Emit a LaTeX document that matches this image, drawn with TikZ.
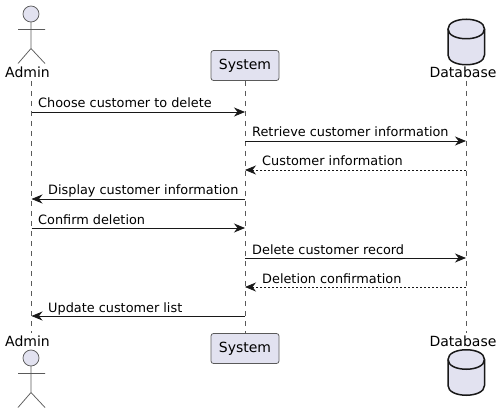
\documentclass[tikz,border=0pt]{standalone}
\usepackage{fontspec}
\setmainfont{DejaVu Sans}
\usetikzlibrary{arrows.meta}
\definecolor{pfill}{HTML}{E2E2F0}
\definecolor{pline}{HTML}{181818}
\definecolor{thinline}{HTML}{5A5A5A}
\tikzset{
  x=1pt,y=-1pt,
  lifeline/.style={draw=thinline,line width=0.5pt,dash pattern=on 5pt off 5pt},
  msg/.style={draw=pline,line width=0.75pt,-{Stealth[length=11pt,width=9pt,inset=3.5pt,fill=pline]}},
  ret/.style={msg,dash pattern=on 2pt off 2pt},
  msgl/.style={anchor=base west,inner sep=0pt,font=\fontsize{12.85}{15}\selectfont,text=black},
  plabel/.style={inner sep=0pt,font=\fontsize{14}{16}\selectfont,text=black},
  pbox/.style={draw=thinline,fill=pfill,line width=0.75pt,rounded corners=2.5pt,minimum width=68pt,minimum height=30pt,inner sep=0pt,font=\fontsize{14}{16}\selectfont,text=black},
  actorline/.style={draw=thinline,line width=0.75pt,fill=pfill},
  dbline/.style={draw=pline,line width=1.5pt,fill=pfill},
}
\newcommand{\actorfig}[1]{%
  \draw[actorline] (31,#1) circle[radius=8];
  \draw[actorline,fill=none] (31,#1+8) -- (31,#1+34.5)
    (18,#1+15.5) -- (45,#1+15.5)
    (18,#1+49.5) -- (31,#1+34.5) -- (45,#1+49.5);
}
\newcommand{\dbfig}[1]{%
  \draw[dbline] (448,#1+10) .. controls (448,#1-3) and (484.5,#1-3) .. (484.5,#1+10)
    -- (484.5,#1+36) .. controls (484.5,#1+49) and (448,#1+49) .. (448,#1+36) -- cycle;
  \draw[dbline,fill=none] (448,#1+10) .. controls (448,#1+23) and (484.5,#1+23) .. (484.5,#1+10);
}
\begin{document}
\begin{tikzpicture}
\useasboundingbox (0,0) rectangle (503,414);
% lifeline ends
\coordinate (at) at (31,81); \coordinate (ab) at (31,333);
\coordinate (st) at (245,81); \coordinate (sb) at (245,333);
\coordinate (dt) at (466,81); \coordinate (db) at (466,333);
\draw[lifeline] (at) -- (ab);
\draw[lifeline] (st) -- (sb);
\draw[lifeline] (dt) -- (db);
% participants
\actorfig{14}
\actorfig{358}
\node[plabel] (adminT) at (27.5,72.5) {Admin};
\node[plabel] (adminB) at (27.5,341) {Admin};
\node[pbox] (sysT) at (245,65.5) {System};
\node[pbox] (sysB) at (245,348.5) {System};
\dbfig{19}
\dbfig{349.5}
\node[plabel] (dbT) at (463,72.5) {Database};
\node[plabel] (dbB) at (463,341) {Database};
% rows
\foreach \n/\y in {1/112,2/141,3/170,4/199,5/228,6/258,7/287,8/316}{
  \coordinate (a\n) at (31.5,\y);
  \coordinate (s\n) at (245,\y);
  \coordinate (d\n) at (466,\y);
}
\draw[msg] (a1) -- (s1);
\node[msgl] (m1) at (38,108) {Choose customer to delete};
\draw[msg] (s2) -- (d2);
\node[msgl] (m2) at (252,137) {Retrieve customer information};
\draw[ret] (d3) -- (s3);
\node[msgl] (m3) at (262,166) {Customer information};
\draw[msg] (s4) -- (a4);
\node[msgl] (m4) at (48,195) {Display customer information};
\draw[msg] (a5) -- (s5);
\node[msgl] (m5) at (38,224) {Confirm deletion};
\draw[msg] (s6) -- (d6);
\node[msgl] (m6) at (252,254) {Delete customer record};
\draw[ret] (d7) -- (s7);
\node[msgl] (m7) at (262,283) {Deletion confirmation};
\draw[msg] (s8) -- (a8);
\node[msgl] (m8) at (48,312) {Update customer list};
\end{tikzpicture}
\end{document}
